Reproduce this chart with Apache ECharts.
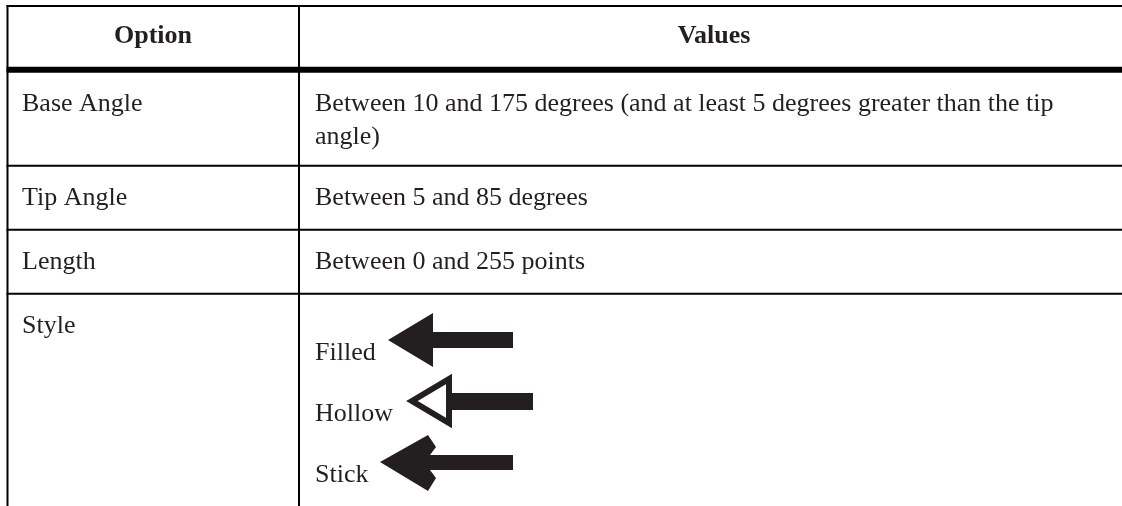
<!DOCTYPE html>
<html>
<head>
<meta charset="utf-8">
<title>Arrow options</title>
<script src="https://cdn.jsdelivr.net/npm/echarts@6/dist/echarts.min.js"></script>
<style>
  html, body { margin: 0; padding: 0; background: #fff; }
  #table-chart { width: 1122px; height: 506px; }
</style>
</head>
<body>
<div id="table-chart"></div>
<script>
// table content
const headers = ['Option', 'Values'];
const options = ['Base Angle', 'Tip Angle', 'Length', 'Style'];
const values = [
  'Between 10 and 175 degrees (and at least 5 degrees greater than the tip angle)',
  'Between 5 and 85 degrees',
  'Between 0 and 255 points',
  ''
];
const styleNames = ['Filled', 'Hollow', 'Stick'];

// layout
const ink = '#231f20';
const font = '26px "Liberation Serif", "Times New Roman", serif';
const boldFont = 'bold 26px "Liberation Serif", "Times New Roman", serif';
const leftX = 7.5;
const splitX = 299;
const rightX = 1122;
const topY = 6;
const headBottom = 69.7;
const rowLines = [165.7, 229.7, 293.7];
const rowTops = [72, 166, 230, 294];
const lineH = 33;

const chart = echarts.init(document.getElementById('table-chart'));

const elements = [];

// borders
const hline = (y, w) => ({
  type: 'line',
  shape: { x1: leftX - 1, y1: y, x2: rightX, y2: y },
  style: { stroke: '#000', lineWidth: w }
});
const vline = (x) => ({
  type: 'line',
  shape: { x1: x, y1: topY - 1, x2: x, y2: 506 },
  style: { stroke: '#000', lineWidth: 2 }
});
elements.push(hline(topY, 2));
elements.push(hline(headBottom, 6));
rowLines.forEach(y => elements.push(hline(y, 2)));
elements.push(vline(leftX));
elements.push(vline(splitX));

// header
elements.push({
  type: 'text',
  style: { text: headers[0], x: 153, y: 36, font: boldFont, fill: ink, align: 'center', verticalAlign: 'middle' }
});
elements.push({
  type: 'text',
  style: { text: headers[1], x: 714, y: 36, font: boldFont, fill: ink, align: 'center', verticalAlign: 'middle' }
});

// body rows
options.forEach((name, i) => {
  elements.push({
    type: 'text',
    style: { text: name, x: 22, y: rowTops[i] + 15.5, font: font, fill: ink, lineHeight: lineH, verticalAlign: 'top' }
  });
  if (values[i]) {
    elements.push({
      type: 'text',
      style: {
        text: values[i], x: 315, y: rowTops[i] + 15.5, font: font, fill: ink,
        lineHeight: lineH, verticalAlign: 'top', width: 790, overflow: 'break'
      }
    });
  }
});

// style samples
const styleY = [353, 414, 475];
styleNames.forEach((name, i) => {
  elements.push({
    type: 'text',
    style: { text: name, x: 315, y: styleY[i], font: font, fill: ink, verticalAlign: 'middle' }
  });
});

// filled arrow
elements.push({
  type: 'polygon',
  shape: { points: [[388, 340], [433, 313], [433, 332], [513, 332], [513, 348], [433, 348], [433, 367]] },
  style: { fill: ink }
});
// hollow arrow
elements.push({
  type: 'rect',
  shape: { x: 450, y: 393, width: 83, height: 17 },
  style: { fill: ink }
});
elements.push({
  type: 'polygon',
  shape: { points: [[412, 401], [449, 379], [449, 423]] },
  style: { fill: '#fff', stroke: ink, lineWidth: 6 }
});
// stick arrow
elements.push({
  type: 'polygon',
  shape: { points: [[380, 462], [428, 435], [436, 447], [430, 455], [513, 455], [513, 470], [430, 470], [436, 478], [428, 491]] },
  style: { fill: ink }
});

chart.setOption({
  backgroundColor: '#fff',
  animation: false,
  graphic: { elements: elements }
});

window.addEventListener('resize', () => chart.resize());
</script>
</body>
</html>
